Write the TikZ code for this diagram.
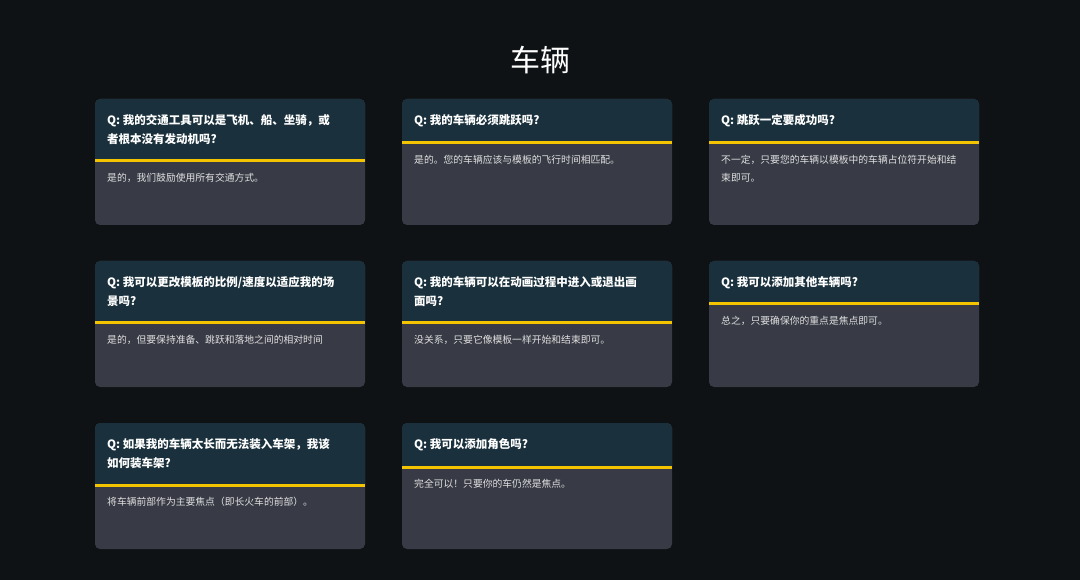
\documentclass[tikz,border=0pt]{standalone}
\usepackage{fontspec}
\setmainfont{Noto Sans CJK SC}
\definecolor{bg}{HTML}{0F1214}
\definecolor{hdr}{HTML}{1A313D}
\definecolor{bdy}{HTML}{383B46}
\definecolor{ylw}{HTML}{F5C400}
\tikzset{
 qtext/.style={anchor=north west,text=white,font=\fontsize{11.5}{19}\selectfont\bfseries,align=left,inner sep=0pt},
 atext/.style={anchor=north west,text=white!88!black,font=\fontsize{9.8}{18}\selectfont,align=left,inner sep=0pt}
}
\newcommand\qacard[6]{% name, x, y, header height, question, answer
 \fill[bdy,rounded corners=5pt] (#2,#3) rectangle (#2+270,#3+126);
 \fill[hdr,rounded corners=5pt] (#2,#3+#4) -- (#2,#3) -- (#2+270,#3) [sharp corners] -- (#2+270,#3+#4) -- cycle;
 \fill[ylw] (#2,#3+#4-1.5) rectangle (#2+270,#3+#4+1.5);
 \node[qtext] (#1q) at (#2+12,#3+15) {#5};
 \node[atext] (#1a) at (#2+12,#3+#4+12) {#6};
}
\begin{document}
\begin{tikzpicture}[x=1pt,y=-1pt]
\fill[bg] (0,0) rectangle (1080,580);
\useasboundingbox (0,0) rectangle (1080,580);
\node[text=white,font=\fontsize{30}{36}\selectfont] (title) at (540,60) {车辆};
\qacard{c1}{95}{99}{62}{Q: 我的交通工具可以是飞机、船、坐骑，或\\者根本没有发动机吗?}{是的，我们鼓励使用所有交通方式。}
\qacard{c2}{402}{99}{44}{Q: 我的车辆必须跳跃吗?}{是的。您的车辆应该与模板的飞行时间相匹配。}
\qacard{c3}{709}{99}{44}{Q: 跳跃一定要成功吗?}{不一定，只要您的车辆以模板中的车辆占位符开始和结\\束即可。}
\qacard{c4}{95}{261}{62}{Q: 我可以更改模板的比例/速度以适应我的场\\景吗?}{是的，但要保持准备、跳跃和落地之间的相对时间}
\qacard{c5}{402}{261}{62}{Q: 我的车辆可以在动画过程中进入或退出画\\面吗?}{没关系，只要它像模板一样开始和结束即可。}
\qacard{c6}{709}{261}{43}{Q: 我可以添加其他车辆吗?}{总之，只要确保你的重点是焦点即可。}
\qacard{c7}{95}{423}{62}{Q: 如果我的车辆太长而无法装入车架，我该\\如何装车架?}{将车辆前部作为主要焦点（即长火车的前部）。}
\qacard{c8}{402}{423}{44}{Q: 我可以添加角色吗?}{完全可以！只要你的车仍然是焦点。}
\end{tikzpicture}
\end{document}
